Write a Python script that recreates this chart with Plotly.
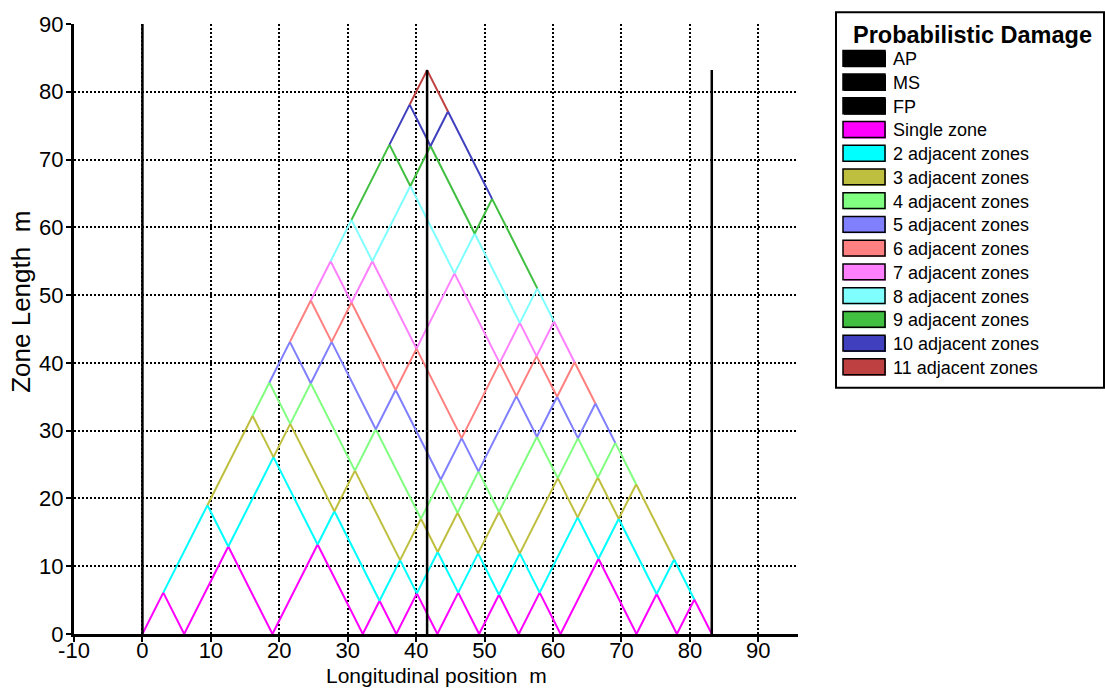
import plotly.graph_objects as go

# Zone boundaries along the ship (m)
boundaries = [0.0, 6.1, 19.0, 32.2, 37.1, 43.1, 49.2, 55.0, 61.1, 72.2, 78.1, 83.2]

# Reference positions (m) and the heights of their vertical markers
ref_names = ["AP", "MS", "FP"]
ref_x = [0.0, 41.6, 83.2]
ref_top = [90.0, 83.2, 83.2]

group_names = ["Single zone"] + [f"{k} adjacent zones" for k in range(2, 12)]
group_colors = ["#FF00FF", "#00FFFF", "#BFBF3F", "#80FF80", "#8080FF", "#FF8080",
                "#FF80FF", "#80FFFF", "#40BF40", "#4040BF", "#BF4040"]

x_ticks = list(range(-10, 100, 10))
x_tick_text = ["-10"] + [str(v) for v in range(0, 100, 10)]
y_ticks = list(range(0, 100, 10))

FONT = "Liberation Sans, Arial, sans-serif"
W, H = 1105, 691
ML, MR, MT, MB = 74, 307, 17, 57


def apex(i, j):
    a, c = boundaries[i], boundaries[j]
    return (a + c) / 2.0, c - a


fig = go.Figure()

n_zones = len(boundaries) - 1
for k in range(1, n_zones + 1):
    xs, ys = [], []
    for i in range(n_zones - k + 1):
        if k == 1:
            mx, h = apex(i, i + 1)
            pts = [(boundaries[i], 0.0), (mx, h), (boundaries[i + 1], 0.0)]
        else:
            pts = [apex(i, i + k - 1), apex(i, i + k), apex(i + 1, i + k)]
        xs += [p[0] for p in pts] + [None]
        ys += [p[1] for p in pts] + [None]
    fig.add_trace(go.Scatter(x=xs, y=ys, mode="lines", name=group_names[k - 1],
                             line=dict(color=group_colors[k - 1], width=2),
                             showlegend=False, hoverinfo="skip"))

for name, x, top in zip(ref_names, ref_x, ref_top):
    fig.add_trace(go.Scatter(x=[x, x], y=[0, top], mode="lines", name=name,
                             line=dict(color="black", width=2.5),
                             showlegend=False, hoverinfo="skip"))

# Hand-built legend panel on the right
pw = W - ML - MR
ph = H - MT - MB


def px_x(p):
    return (p - ML) / pw


def px_y(p):
    return (H - MB - p) / ph


shapes = [dict(type="rect", xref="paper", yref="paper",
               x0=px_x(836), x1=px_x(1104), y0=px_y(385), y1=px_y(5),
               line=dict(color="black", width=2), fillcolor="white", layer="above")]
annotations = [dict(text="<b>Probabilistic Damage</b>", xref="paper", yref="paper",
                    x=px_x(972), y=px_y(28), xanchor="center", yanchor="middle",
                    showarrow=False, font=dict(family=FONT, size=23.5, color="black"))]

entry_names = ref_names + group_names
entry_colors = ["black"] * 3 + group_colors
for idx, (name, col) in enumerate(zip(entry_names, entry_colors)):
    cy = 51.7 + 24.0 * idx
    shapes.append(dict(type="rect", xref="paper", yref="paper",
                       x0=px_x(844), x1=px_x(886), y0=px_y(cy + 9), y1=px_y(cy - 7),
                       line=dict(width=0), fillcolor=col, layer="above"))
    shapes.append(dict(type="rect", xref="paper", yref="paper",
                       x0=px_x(843), x1=px_x(885), y0=px_y(cy + 8), y1=px_y(cy - 8),
                       line=dict(color="black", width=1.5), fillcolor=col, layer="above"))
    annotations.append(dict(text=name, xref="paper", yref="paper",
                            x=px_x(891), y=px_y(cy + 1), xanchor="left", yanchor="middle",
                            showarrow=False, font=dict(family=FONT, size=18, color="black")))

annotations.append(dict(text="Longitudinal position\u00a0\u00a0m", xref="paper", yref="paper",
                        x=px_x(436), y=px_y(676), xanchor="center", yanchor="middle",
                        showarrow=False, font=dict(family=FONT, size=21, color="black")))
annotations.append(dict(text="Zone Length\u00a0\u00a0m", xref="paper", yref="paper",
                        x=px_x(21), y=px_y(298), xanchor="center", yanchor="middle",
                        textangle=-90, showarrow=False,
                        font=dict(family=FONT, size=26, color="black")))

axis_common = dict(showgrid=True, gridcolor="black", gridwidth=1.5, griddash="2px,2px",
                   showline=True, linecolor="black", linewidth=3, zeroline=False,
                   ticks="outside", ticklen=5, tickwidth=2, tickcolor="black",
                   tickfont=dict(family=FONT, size=22, color="black"), mirror=False)

fig.update_layout(
    width=W, height=H,
    margin=dict(l=ML, r=MR, t=MT, b=MB),
    paper_bgcolor="white", plot_bgcolor="white",
    showlegend=False,
    xaxis=dict(range=[-10, 95.8], tickvals=x_ticks, ticktext=x_tick_text,
               ticklabelstandoff=-10, **axis_common),
    yaxis=dict(range=[0, 90], tickvals=y_ticks, ticklabelstandoff=-2, **axis_common),
    shapes=shapes, annotations=annotations,
)

fig.write_html("out.html")
